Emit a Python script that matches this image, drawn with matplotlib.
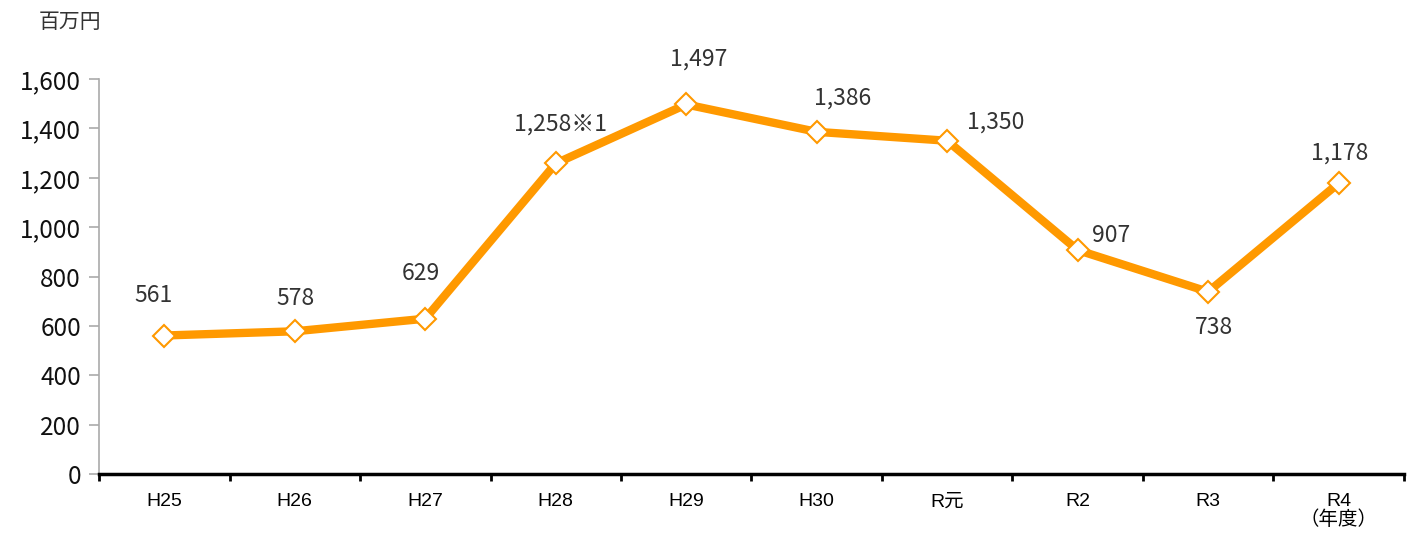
import matplotlib
matplotlib.use("Agg")
import matplotlib.pyplot as plt

# data
years = ['H25', 'H26', 'H27', 'H28', 'H29', 'H30', 'R元', 'R2', 'R3', 'R4\n（年度）']
values = [561, 578, 629, 1258, 1497, 1386, 1350, 907, 738, 1178]
value_labels = ['561', '578', '629', '1,258※1', '1,497', '1,386', '1,350', '907', '738', '1,178']
yticks = [0, 200, 400, 600, 800, 1000, 1200, 1400, 1600]

# label offsets in pixels (dx, dy) from each point
_LABEL_OFFSETS = [(-11, 40), (1, 33), (-4, 45), (5, 39), (12, 45), (26, 34),
                  (48, 19), (33, 15), (6, -36), (1, 30)]

_ORANGE = '#FF9900'
_JP = ['Noto Sans CJK JP', 'DejaVu Sans']
_TICK = ['Liberation Sans', 'Noto Sans CJK JP']

fig = plt.figure(figsize=(14.07, 5.34), dpi=100)
ax = fig.add_axes([0.0704, 0.1124, 0.9274, 0.7396])

x = list(range(len(values)))
ax.plot(x, values, color=_ORANGE, lw=6, marker='D', ms=11,
        mfc='white', mec=_ORANGE, mew=1.5, solid_joinstyle='miter', zorder=3)

for xi, v, lab, (dx, dy) in zip(x, values, value_labels, _LABEL_OFFSETS):
    ax.annotate(lab, (xi, v), xytext=(dx, dy), textcoords='offset pixels',
                ha='center', va='center', fontsize=16.5, color='#333333', family=_JP)

ax.set_xlim(-0.5, len(values) - 0.5)
ax.set_ylim(0, 1600)

# y axis
ax.set_yticks(yticks)
ax.set_yticklabels([f'{t:,}' for t in yticks], family=_JP, fontsize=17.5, color='#111111')
ax.tick_params(axis='y', length=7, width=1.2, color='#aaaaaa', pad=6)

# x axis: ticks on the category boundaries, labels centred
ax.set_xticks([i - 0.5 for i in range(len(values) + 1)])
ax.set_xticklabels([])
ax.set_xticks(x, minor=True)
ax.set_xticklabels(years, minor=True, family=_TICK, fontsize=14, linespacing=1.0)
ax.tick_params(axis='x', which='major', direction='out', length=5, width=2, color='black')
ax.tick_params(axis='x', which='minor', length=0, pad=14)

for side in ['top', 'right']:
    ax.spines[side].set_visible(False)
ax.spines['left'].set_color('#aaaaaa')
ax.spines['left'].set_linewidth(1.2)
ax.spines['bottom'].set_color('black')
ax.spines['bottom'].set_linewidth(2.5)

fig.text(0.0497, 0.958, '百万円', family=_JP, fontsize=15, color='#333333', ha='center', va='center')

fig.savefig('out.png', dpi=100)
